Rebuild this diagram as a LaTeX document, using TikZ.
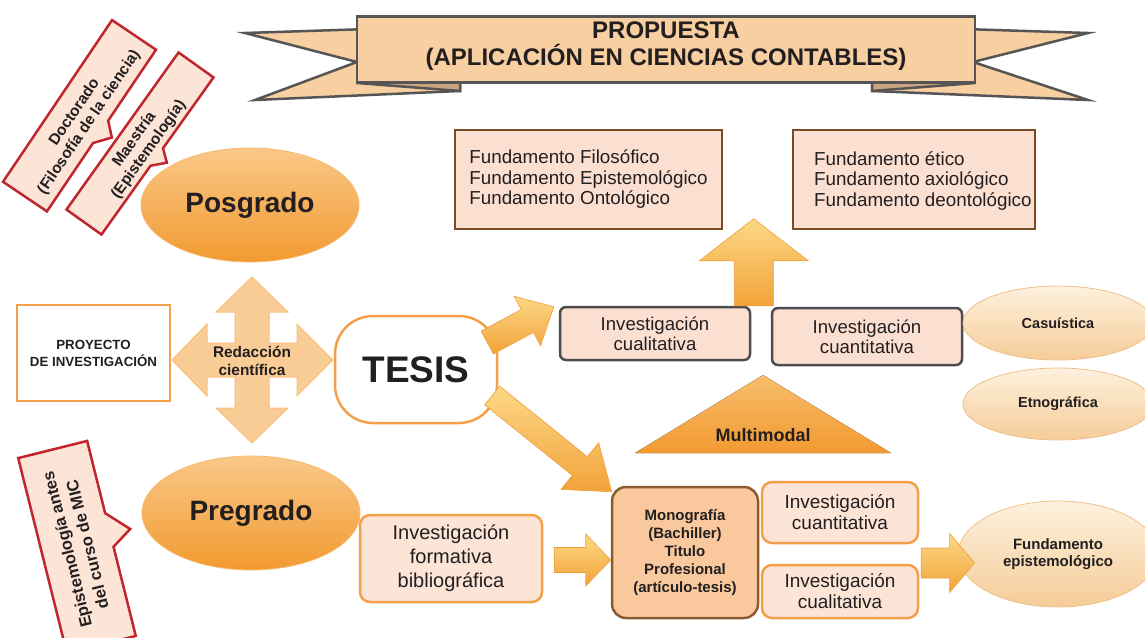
\documentclass[tikz,border=0pt]{standalone}
\usepackage{fontspec}
\setmainfont{Liberation Sans}
\usetikzlibrary{calc,shapes.geometric}
\definecolor{bannerfill}{HTML}{F8CFA1}
\definecolor{bannerfold}{HTML}{C9A47E}
\definecolor{bannerline}{HTML}{555555}
\definecolor{calloutfill}{HTML}{FCE4D6}
\definecolor{calloutline}{HTML}{C0262D}
\definecolor{orangeline}{HTML}{F4A04A}
\definecolor{orangelight}{HTML}{F9C888}
\definecolor{orangedark}{HTML}{F29A30}
\definecolor{pinkfill}{HTML}{FBE0D2}
\definecolor{brownline}{HTML}{7B4B26}
\definecolor{grayline}{HTML}{4D4D4D}
\definecolor{textdark}{HTML}{231F20}
\definecolor{arrowlight}{HTML}{FCD886}
\definecolor{arrowdark}{HTML}{F2A33A}
\definecolor{creamlight}{HTML}{FDF1DE}
\definecolor{creamdark}{HTML}{F6CC98}
\definecolor{monofill}{HTML}{F9C99D}
\definecolor{monoline}{HTML}{8C5A30}
\definecolor{quadfill}{HTML}{F9CB95}
\definecolor{multilight}{HTML}{F7BD6C}

\tikzset{
  banner/.style={fill=bannerfill, draw=bannerline, line width=2.5pt},
  callout/.style={fill=calloutfill, draw=calloutline, line width=2.5pt},
  callouttext/.style={font=\bfseries\fontsize{15.5}{17.5}\selectfont, align=center, text=textdark},
  level/.style={ellipse, inner sep=0pt, minimum width=218pt, minimum height=114pt,
    top color=orangelight, bottom color=orangedark, draw=orangelight!70!orangedark, line width=0.8pt,
    font=\bfseries\fontsize{28}{30}\selectfont, text=textdark},
  fundbox/.style={rectangle, draw=brownline, fill=pinkfill, line width=2.5pt, inner sep=0pt,
    minimum height=99pt, align=left, font=\fontsize{18.8}{20.5}\selectfont, text=textdark},
  grayinv/.style={rounded corners=6pt, draw=grayline, fill=pinkfill, line width=2.5pt, inner sep=0pt,
    minimum width=190pt, align=center, font=\fontsize{18.6}{20.5}\selectfont, text=textdark},
  orangeinv/.style={rounded corners=10pt, draw=orangeline, fill=calloutfill, line width=2.5pt, inner sep=0pt,
    align=center, font=\fontsize{19}{21}\selectfont, text=textdark},
  method/.style={ellipse, inner sep=0pt, top color=creamlight, bottom color=creamdark,
    draw=creamdark!85!brown, line width=0.8pt, align=center, font=\bfseries\fontsize{14.5}{17}\selectfont, text=textdark},
  barrow/.style={top color=arrowlight, bottom color=arrowdark, draw=arrowdark!90!brown, line width=0.6pt}
}

\newcommand{\blockarrow}[5]{%
  \coordinate (bh) at ($(#2)!#5!(#1)$);
  \draw[barrow] ($(#1)!#3!90:(#2)$) -- ($(bh)!#3!90:(#2)$) -- ($(bh)!#4!90:(#2)$) -- (#2)
    -- ($(bh)!#4!-90:(#2)$) -- ($(bh)!#3!-90:(#2)$) -- ($(#1)!#3!-90:(#2)$) -- cycle;}

\begin{document}
\begin{tikzpicture}[x=1pt,y=-1pt]
\useasboundingbox (0,0) rectangle (1145,637);

\draw[banner] (400,28) -- (245,33) -- (357,62) -- (255,100) -- (460,91) -- (460,40) -- cycle;
\draw[banner] (932,28) -- (1088,33) -- (973,62) -- (1088,100) -- (872,91) -- (872,40) -- cycle;
\draw[banner, fill=bannerfold] (357,83) -- (460,80) -- (460,91) -- cycle;
\draw[banner, fill=bannerfold] (975,83) -- (872,80) -- (872,91) -- cycle;
\node[banner, minimum width=618pt, minimum height=66pt, inner sep=0pt] (bann) at (666,49.5) {};
\node[font=\bfseries\fontsize{24}{27}\selectfont, align=center, text=textdark] (prop) at (666,46)
  {PROPUESTA\\(APLICACIÓN EN CIENCIAS CONTABLES)};

\begin{scope}[shift={(79.5,115.75)}, rotate=56]
  \draw[callout] (-97.5,-26.5) -- (97.5,-26.5) -- (97.5,26.5) -- (12,26.5) -- (0,39) -- (-15,26.5) -- (-97.5,26.5) -- cycle;
  \node[callouttext, rotate=56] (doct) at (0,3) {Doctorado\\(Filosofía de la ciencia)};
\end{scope}
\begin{scope}[shift={(140,143.5)}, rotate=54.5]
  \draw[callout] (-96.5,-21.5) -- (96.5,-21.5) -- (96.5,21.5) -- (9.5,21.5) -- (0,33) -- (-12,21.5) -- (-96.5,21.5) -- cycle;
  \node[callouttext, rotate=54.5] (maes) at (0,2) {Maestría\\(Epistemología)};
\end{scope}
\begin{scope}[shift={(77,547)}, rotate=104]
  \draw[callout] (-100.5,-35.5) -- (100.5,-35.5) -- (100.5,35.5) -- (26,35.5) -- (4.6,56) -- (-8.6,35.5) -- (-100.5,35.5) -- cycle;
  \node[callouttext, rotate=104, font=\bfseries\fontsize{16.5}{21}\selectfont] (epis) at (0,0) {Epistemología antes\\del curso de MIC};
\end{scope}

\node[level] (posg) at (250,205) {Posgrado};
\node[level] (preg) at (251,513) {Pregrado};
\node[draw=orangeline, line width=2.5pt, fill=white, minimum width=153pt, minimum height=96pt, inner sep=0pt,
  align=center, font=\bfseries\fontsize{13.3}{17}\selectfont, text=textdark] (proy) at (93.5,353) {PROYECTO\\DE INVESTIGACIÓN};

\begin{scope}[shift={(252,360)}]
  \draw[fill=quadfill, draw=quadfill!85!orange, line width=1pt] (0,-83) -- (36,-48) -- (17,-48) -- (17,-17) -- (45,-17) -- (45,-36)
    -- (81,0) -- (45,36) -- (45,17) -- (17,17) -- (17,48) -- (36,48) -- (0,83) -- (-36,48) -- (-17,48) -- (-17,17)
    -- (-45,17) -- (-45,36) -- (-80,0) -- (-45,-36) -- (-45,-17) -- (-17,-17) -- (-17,-48) -- (-36,-48) -- cycle;
\end{scope}
\node[font=\bfseries\fontsize{15.4}{18}\selectfont, align=center, text=textdark] (redac) at (252,361) {Redacción\\científica};

\node[draw=orangeline, line width=2.5pt, fill=white, rounded corners=38pt, minimum width=162pt, minimum height=107pt,
  inner sep=0pt, font=\bfseries\fontsize{37}{40}\selectfont, text=textdark] (tesis) at (416,369.5) {TESIS};

\node[fundbox, minimum width=267pt] (ffil) at (588.5,179.5) {Fundamento Filosófico\\Fundamento Epistemológico\\Fundamento Ontológico};
\node[fundbox, minimum width=242pt] (feti) at (914,179.5) {};
\node[anchor=west, align=left, font=\fontsize{18.8}{20.5}\selectfont, text=textdark, inner sep=0pt] (fetitxt) at (814,181)
  {Fundamento ético\\Fundamento axiológico\\Fundamento deontológico};

\node[grayinv, minimum height=53pt] (cual1) at (655,333.5) {Investigación\\cualitativa};
\node[grayinv, minimum height=57pt] (cuan1) at (867,336.5) {Investigación\\cuantitativa};

\node[method, minimum width=190pt, minimum height=74pt] (casu) at (1058,323) {Casuística};
\node[method, minimum width=190pt, minimum height=72pt] (etno) at (1058,404) {Etnográfica};

\fill[top color=multilight, bottom color=orangedark] (635,453) -- (891,453) -- (763,375) -- cycle;
\node[font=\bfseries\fontsize{18}{20}\selectfont, text=textdark] (multi) at (763,435) {Multimodal};

\node[draw=monoline, fill=monofill, line width=2.5pt, rounded corners=14pt, minimum width=146pt, minimum height=131pt,
  inner sep=0pt, align=center, font=\bfseries\fontsize{15}{18}\selectfont, text=textdark] (mono) at (685,552.5)
  {Monografía\\(Bachiller)\\Titulo\\Profesional\\(artículo-tesis)};
\node[orangeinv, minimum width=156pt, minimum height=61pt] (cuan2) at (840,512.5) {Investigación\\cuantitativa};
\node[orangeinv, minimum width=156pt, minimum height=53pt] (cual2) at (840,591.5) {Investigación\\cualitativa};
\node[orangeinv, minimum width=182pt, minimum height=87pt, font=\fontsize{20}{24}\selectfont] (form) at (451,558.5)
  {Investigación\\formativa\\bibliográfica};
\node[method, minimum width=200pt, minimum height=106pt, font=\bfseries\fontsize{15}{17}\selectfont] (fepi) at (1058,554)
  {Fundamento\\epistemológico};

\coordinate (t1s) at ($(tesis.east)+(-11,-27)$);
\coordinate (t1e) at ($(cual1.north west)+(-5,1)$);
\coordinate (ups) at ($(cual1.north east)+(2.5,0)$);
\coordinate (upe) at ($(ups)+(0,-87)$);
\coordinate (dgs) at ($(tesis.east)+(-6,26)$);
\coordinate (dge) at ($(mono.north west)+(1,6)$);
\coordinate (fms) at ($(form.east)+(11,1.5)$);
\coordinate (fme) at ($(mono.west)+(0,7.5)$);
\coordinate (rts) at ($(cuan2.south east)!0.5!(cual2.north east)+(2,9)$);
\coordinate (rte) at ($(fepi.west)+(17,9)$);

\blockarrow{t1s}{t1e}{13pt}{28pt}{30pt}
\blockarrow{ups}{upe}{19.5pt}{54.5pt}{42pt}
\blockarrow{dgs}{dge}{12pt}{30pt}{41pt}
\blockarrow{fms}{fme}{12.5pt}{26pt}{25pt}
\blockarrow{rts}{rte}{15pt}{29.5pt}{25pt}
\end{tikzpicture}
\end{document}
